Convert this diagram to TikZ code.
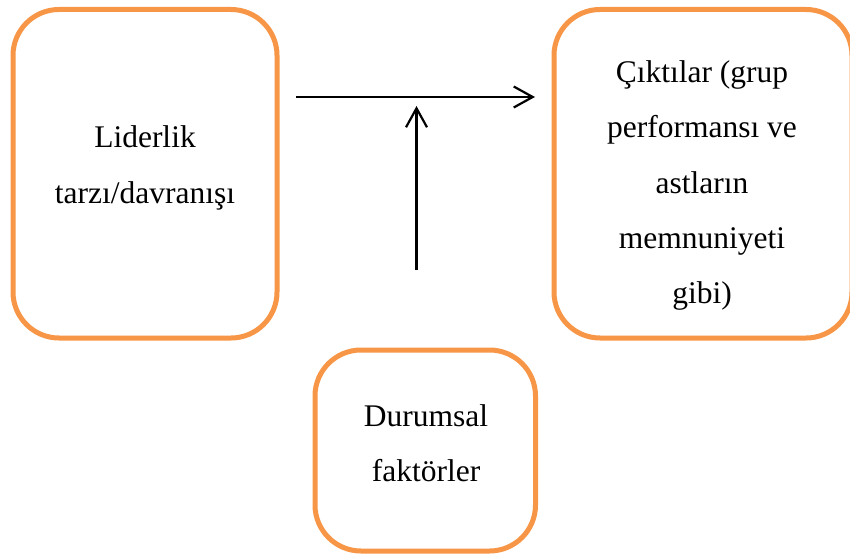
\documentclass[tikz,border=0pt]{standalone}
\usepackage{fontspec}
\setmainfont{Liberation Serif}
\usetikzlibrary{arrows.meta}
\definecolor{boxorange}{RGB}{247,150,70}
\begin{document}
\begin{tikzpicture}[x=1pt,y=-1pt,
  frame/.style={draw=boxorange, line width=5pt, rounded corners=46pt, fill=white},
  caption/.style={align=center, inner sep=0pt, text=black,
    font=\fontsize{31.5}{55.3}\selectfont},
  link/.style={line width=2.2pt,
    -{Straight Barb[length=19pt,width=21pt,line width=2.2pt]}}]
\useasboundingbox (0,0) rectangle (850,556);

% boxes
\node[frame, minimum width=264pt, minimum height=328.5pt] (lead) at (145,173.75) {};
\node[frame, minimum width=298pt, minimum height=328.5pt] (out) at (703,173.75) {};
\node[frame, minimum width=220.5pt, minimum height=201pt] (sit) at (425.25,450.5) {};

% box texts
\node[caption] (leadtext) at (145,168) {Liderlik\\tarzı/davranışı};
\node[caption] (outtext) at (702,185.5) {Çıktılar (grup\\performansı ve\\astların\\memnuniyeti\\gibi)};
\node[caption] (sittext) at (426,443) {Durumsal\\faktörler};

% arrows
\coordinate (hstart) at (296,97);
\coordinate (hend) at (535,97);
\coordinate (vstart) at (416.5,270);
\coordinate (vend) at (416.5,106);
\draw[link] (hstart) -- (hend);
\draw[link] (vstart) -- (vend);
\end{tikzpicture}
\end{document}
